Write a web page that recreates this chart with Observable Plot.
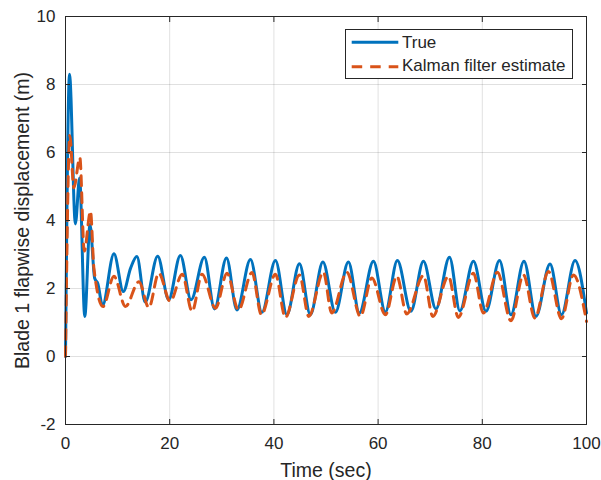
<!DOCTYPE html>
<html><head><meta charset="utf-8">
<script src="https://cdn.jsdelivr.net/npm/d3@7"></script>
<script src="https://cdn.jsdelivr.net/npm/@observablehq/plot@0.6"></script>
<style>
body{margin:0;background:#fff;}
#wrap{position:relative;width:601px;height:480px;font-family:"Liberation Sans",Arial,sans-serif;color:#262626;}
#legend{position:absolute;left:345px;top:29px;width:228px;height:50px;border:1px solid #262626;background:#fff;box-sizing:border-box;font-size:17px;}
#legend svg{position:absolute;left:0;top:0;}
#legend span{position:absolute;left:56px;line-height:17px;white-space:nowrap;}
</style></head>
<body><div id="wrap"><div id="legend"></div></div>
<script>
const seriesNames = ["True", "Kalman filter estimate"];
const seriesColors = ["#0072BD", "#D95319"];
const xTicks = [0, 20, 40, 60, 80, 100];
const yTicks = [-2, 0, 2, 4, 6, 8, 10];
const xLabel = "Time (sec)";
const yLabel = "Blade 1 flapwise displacement (m)";

// True displacement: extrema (time s, value m)
const timeTrue = [0, 0.77, 1.9, 2.7, 3.7, 4.7, 5.6, 6.2, 7.1, 9.3, 11.1, 12.5, 13.7, 15.3, 17.7, 19.8, 22.05, 24.1, 26.65, 28.6, 30.9, 32.9, 35.5, 37.7, 40.3, 42.5, 44.9, 47.0, 49.4, 51.8, 54.3, 56.4, 59.1, 61.4, 63.7, 66.3, 68.7, 71.1, 73.7, 75.7, 78.3, 80.7, 83.3, 85.5, 88.0, 90.3, 93.0, 95.2, 97.8, 100];
const valTrue  = [0, 8.3, 3.9, 5.25, 1.18, 3.88, 2.3, 2.15, 1.5, 3.02, 1.91, 2.6, 2.94, 1.6, 2.95, 1.67, 2.97, 1.67, 2.92, 1.4, 2.9, 1.37, 2.85, 1.3, 2.82, 1.23, 2.73, 1.23, 2.78, 1.3, 2.78, 1.28, 2.8, 1.31, 2.82, 1.33, 2.8, 1.4, 2.92, 1.34, 2.8, 1.33, 2.82, 1.23, 2.8, 1.18, 2.72, 1.23, 2.82, 1.28];

// Kalman filter estimate
const timeKF = [0, 0.83, 1.6, 2.75, 3.6, 4.8, 5.45, 7.2, 9.3, 11.5, 14.1, 16.0, 17.9, 20.1, 22.4, 24.3, 26.2, 28.8, 31.0, 33.2, 35.8, 37.6, 40.3, 42.2, 44.9, 46.7, 49.5, 51.1, 54.0, 56.6, 58.8, 61.4, 63.6, 65.5, 68.7, 70.5, 73.5, 75.4, 78.3, 80.2, 82.9, 85.5, 87.9, 90.1, 92.7, 95.2, 97.5, 100];
const valKF  = [0, 6.5, 4.96, 5.85, 3.1, 4.27, 2.6, 1.47, 2.36, 1.47, 2.2, 1.44, 2.45, 1.62, 2.42, 1.33, 2.42, 1.42, 2.45, 1.37, 2.47, 1.23, 2.42, 1.15, 2.4, 1.18, 2.48, 1.28, 2.48, 1.18, 2.31, 1.23, 2.36, 1.25, 2.38, 1.18, 2.36, 1.15, 2.45, 1.28, 2.48, 1.05, 2.4, 1.13, 2.5, 1.11, 2.4, 1.03];

const trueData = timeTrue.map((t, i) => ({t, v: valTrue[i]}));
const kfData = timeKF.map((t, i) => ({t, v: valKF[i]}));
const ink = "#262626";
const font = '"Liberation Sans", Arial, sans-serif';

const chart = Plot.plot({
  width: 601, height: 480,
  marginLeft: 65, marginRight: 15, marginTop: 16, marginBottom: 56,
  style: {fontFamily: font, fontSize: "17px", color: ink, background: "#fff", overflow: "visible"},
  x: {domain: [0, 100]},
  y: {domain: [-2, 10]},
  marks: [
    Plot.gridX(xTicks, {stroke: "#000", strokeOpacity: 0.12}),
    Plot.gridY(yTicks, {stroke: "#000", strokeOpacity: 0.12}),
    Plot.line(trueData, {x: "t", y: "v", stroke: seriesColors[0], strokeWidth: 3, curve: "monotone-x"}),
    Plot.line(kfData, {x: "t", y: "v", stroke: seriesColors[1], strokeWidth: 3, strokeDasharray: "10,7", curve: "monotone-x"}),
    Plot.frame({stroke: ink, strokeWidth: 1}),
    Plot.axisX(xTicks, {anchor: "bottom", tickSize: -5, tickPadding: 17, tickFormat: d => String(d), label: null, stroke: ink, fill: ink}),
    Plot.axisX(xTicks, {anchor: "top", tickSize: -5, tickFormat: () => "", label: null, stroke: ink}),
    Plot.axisY(yTicks, {anchor: "left", tickSize: -5, tickPadding: 15, tickFormat: d => String(d), label: null, stroke: ink, fill: ink}),
    Plot.axisY(yTicks, {anchor: "right", tickSize: -5, tickFormat: () => "", label: null, stroke: ink}),
    Plot.text([xLabel], {frameAnchor: "bottom", dy: 46.5, text: d => d, fontSize: 19.5, fill: ink, textAnchor: "middle", lineAnchor: "middle"}),
    Plot.text([yLabel], {frameAnchor: "left", dx: -42.5, rotate: -90, text: d => d, fontSize: 19.5, fill: ink, textAnchor: "middle", lineAnchor: "middle"})
  ]
});
const wrap = document.getElementById("wrap");
wrap.insertBefore(chart, wrap.firstChild);

// Legend
const legend = document.getElementById("legend");
const lsvg = d3.create("svg").attr("width", 226).attr("height", 48);
const rowsY = [12.3, 36.7];
const textTop = [4.2, 26.7];
seriesNames.forEach((name, i) => {
  lsvg.append("line").attr("x1", 5.7).attr("x2", 52.3).attr("y1", rowsY[i]).attr("y2", rowsY[i])
    .attr("stroke", seriesColors[i]).attr("stroke-width", 3)
    .attr("stroke-dasharray", i === 1 ? "10.5,8" : null);
  const s = document.createElement("span");
  s.textContent = name;
  s.style.top = textTop[i] + "px";
  legend.appendChild(s);
});
legend.insertBefore(lsvg.node(), legend.firstChild);
</script>
</body></html>
